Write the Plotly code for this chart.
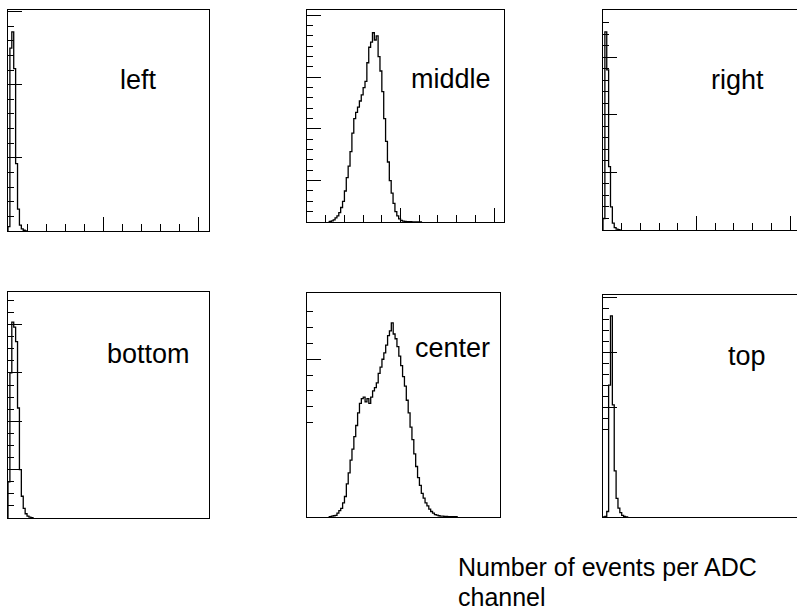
import numpy as np
import plotly.graph_objects as go

# ---------------- data (counts per ADC channel, bin width 1) ----------------
panel_names = ["left", "middle", "right", "bottom", "center", "top"]

left_start = -1
left_counts = [0, 0.3, 12.5, 13.6, 11.1, 4.6, 1.5, 0.4, 0.15, 0.05, 0, 0]

middle_start = 11
middle_counts = [0, 0.05, 0.1, 0.2, 0.4, 0.6, 0.9, 1.4, 2.0, 3.0, 4.3, 5.4, 6.8, 8.6,
                 10.0, 10.6, 11.1, 11.7, 12.3, 13.0, 13.6, 15.4, 16.9, 17.4, 18.3,
                 17.6, 18.0, 16.0, 14.6, 12.6, 10.0, 7.8, 5.8, 4.0, 2.8, 1.8, 1.0,
                 0.6, 0.3, 0.15, 0.08, 0.05, 0.04, 0.03, 0.03, 0.02, 0.02, 0.02,
                 0.01, 0.01, 0]

right_start = -1
right_counts = [0, 1.0, 17.2, 13.9, 5.5, 2.0, 0.6, 0.2, 0.08, 0.03, 0]

bottom_start = -1
bottom_counts = [0, 3.0, 12.0, 16.2, 15.8, 14.6, 9.1, 4.0, 1.8, 0.8, 0.35, 0.15,
                 0.07, 0.03, 0]

center_start = 11
center_counts = [0, 0.02, 0.05, 0.08, 0.1, 0.25, 0.4, 0.55, 0.9, 1.3, 2.1, 2.8, 3.6,
                 4.3, 5.1, 5.8, 6.6, 7.2, 7.5, 7.6, 7.3, 7.5, 7.2, 7.6, 8.0, 8.2,
                 8.5, 9.1, 9.5, 10.0, 10.4, 10.9, 11.5, 11.8, 12.3, 11.6, 11.3,
                 10.8, 10.2, 9.6, 8.9, 8.3, 7.4, 6.6, 5.7, 4.9, 4.0, 3.2, 2.5, 2.0,
                 1.5, 1.2, 0.9, 0.7, 0.5, 0.35, 0.25, 0.15, 0.12, 0.08, 0.05, 0.05,
                 0.04, 0.04, 0.03, 0.03, 0.02, 0.02, 0.02, 0]

top_start = -1
top_counts = [0, 0, 0.05, 0.5, 12.0, 18.3, 10.2, 4.2, 1.7, 0.8, 0.4, 0.15, 0.05,
              0.02, 0]

caption_lines = ["Number of events per ADC", "channel"]

# ---------------- layout helpers ----------------
W, H = 797, 613

def px_x(x):
    return x / W

def px_y(y):
    return 1 - y / H

# panel boxes in pixels: (x0, x1, ytop, ybottom)
boxes = [
    (8, 209, 10, 231),
    (307, 504, 10, 222),
    (603, 797, 10, 230),
    (8, 209, 292, 518),
    (307, 500, 293, 517),
    (603, 797, 295, 517),
]
x_ranges = [[0, 105.5], [0, 105.3], [0, 103.7], [0, 105.5], [0, 103], [0, 103.7]]
y_ranges = [[0, 15.1], [0, 20.5], [0, 19.1], [0, 18.7], [0, 14.2], [0, 20.2]]
y_major = [[5, 10, 15], [4, 9, 14, 20], [5, 10, 15], [4, 8, 12, 16], [10], [10, 15, 20]]
y_minor = [list(range(1, 15)), list(range(1, 21)), list(range(1, 19)),
           list(range(1, 19)), list(range(6, 14)), list(range(8, 21))]

starts = [left_start, middle_start, right_start, bottom_start, center_start, top_start]
counts = [left_counts, middle_counts, right_counts, bottom_counts, center_counts, top_counts]

fig = go.Figure()

for i in range(6):
    c = np.array(counts[i], dtype=float)
    centers = starts[i] + np.arange(len(c)) + 0.5
    ax = "" if i == 0 else str(i + 1)
    fig.add_trace(go.Scatter(
        x=centers, y=c, mode="lines", line=dict(color="black", width=1.3, shape="hvh"),
        xaxis="x" + ax, yaxis="y" + ax, showlegend=False, hoverinfo="skip"))

    x0, x1, yt, yb = boxes[i]
    top_row = i < 3
    right_col = i in (2, 5)
    xa = dict(
        domain=[px_x(x0), px_x(x1)], range=x_ranges[i], anchor="y" + ax,
        showgrid=False, zeroline=False, showline=True, linecolor="black",
        linewidth=1.4, mirror=True, showticklabels=False,
    )
    if top_row:
        xa.update(ticks="inside", tickmode="array", tickvals=[50, 100], ticklen=14,
                  tickwidth=1.3, tickcolor="black",
                  minor=dict(ticks="inside", tickmode="array",
                             tickvals=[10, 20, 30, 40, 60, 70, 80, 90],
                             ticklen=7, tickwidth=1.2, tickcolor="black"))
    else:
        xa.update(ticks="")
    ya = dict(
        domain=[px_y(yb), px_y(yt)], range=y_ranges[i], anchor="x" + ax,
        showgrid=False, zeroline=False, showline=True, linecolor="black",
        linewidth=1.4, mirror=not right_col, showticklabels=False,
        ticks="inside", tickmode="array", tickvals=y_major[i], ticklen=14,
        tickwidth=1.3, tickcolor="black",
        minor=dict(ticks="inside", tickmode="array", tickvals=y_minor[i],
                   ticklen=6, tickwidth=1.2, tickcolor="black"),
    )
    fig.update_layout(**{"xaxis" + ax: xa, "yaxis" + ax: ya})

# panel labels (pixel centre x, pixel centre y)
label_pos = [(138, 80), (451, 79), (737, 80), (148, 354), (452, 348), (747, 356)]
annotations = []
for name, (lx, ly) in zip(panel_names, label_pos):
    annotations.append(dict(
        text=name, x=px_x(lx), y=px_y(ly), xref="paper", yref="paper",
        xanchor="center", yanchor="middle", showarrow=False,
        font=dict(family="Liberation Sans, Arial, sans-serif", size=27, color="black")))

cap_y = [567, 597]
for line, cy in zip(caption_lines, cap_y):
    annotations.append(dict(
        text=line, x=px_x(457), y=px_y(cy), xref="paper", yref="paper",
        xanchor="left", yanchor="middle", showarrow=False, align="left",
        borderpad=0,
        font=dict(family="Liberation Sans, Arial, sans-serif", size=25, color="black")))

fig.update_layout(
    width=W, height=H, autosize=False,
    margin=dict(l=0, r=0, t=0, b=0),
    paper_bgcolor="white", plot_bgcolor="white",
    annotations=annotations, showlegend=False,
)

fig.write_html("out.html")
